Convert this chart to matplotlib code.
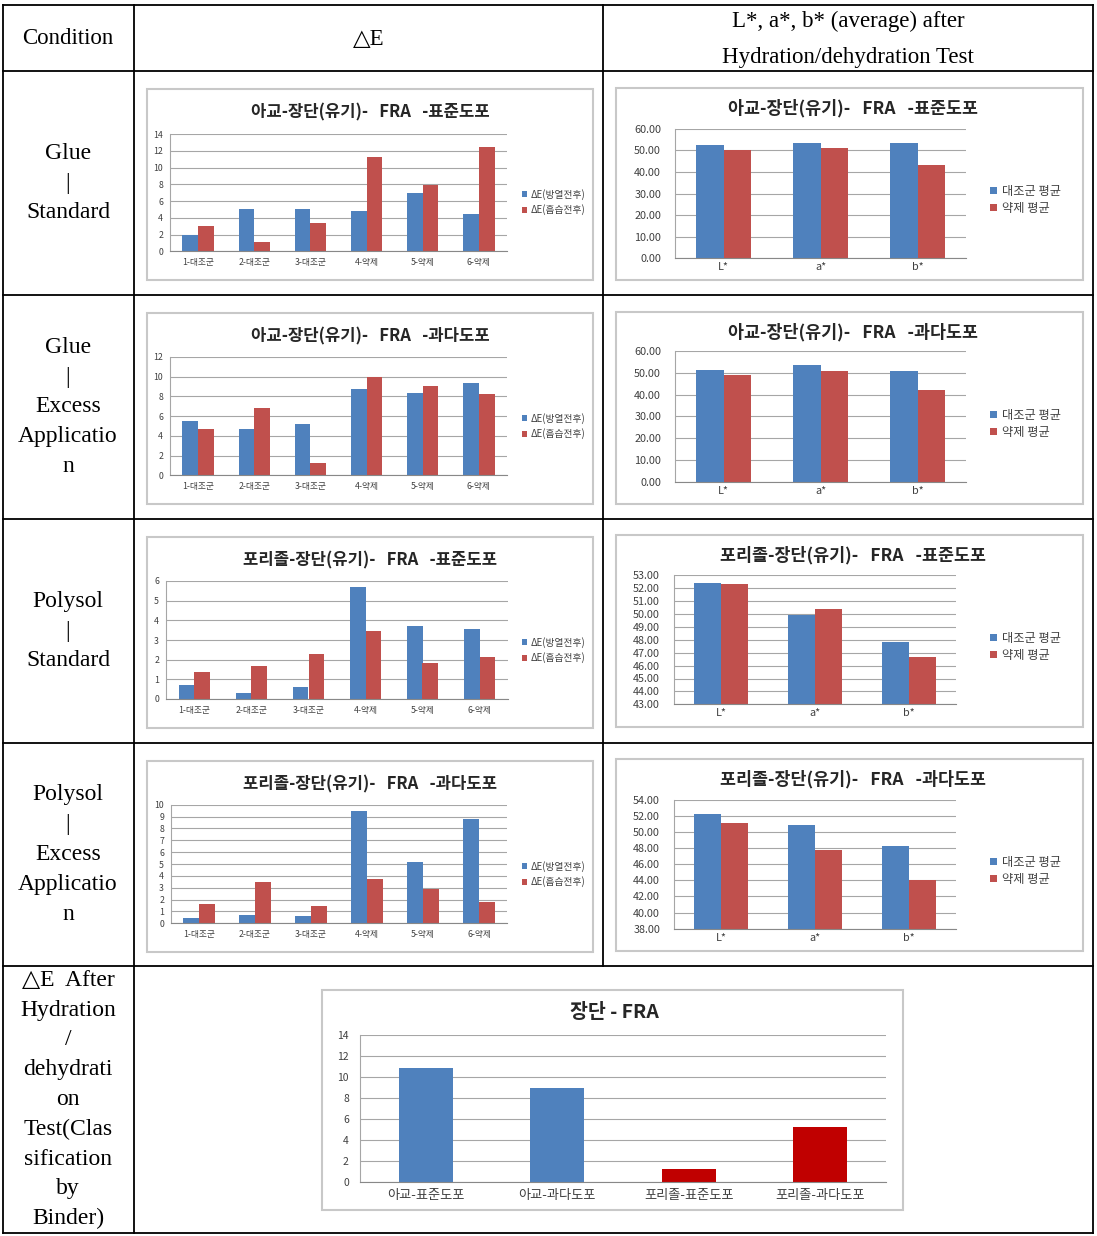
import matplotlib
matplotlib.use('Agg')
import matplotlib.pyplot as plt
from matplotlib.patches import Rectangle
import numpy as np

W, H = 1097, 1236
CJK = ['Noto Sans CJK KR', 'DejaVu Sans']
SERIF = ['Liberation Serif', 'DejaVu Sans']
plt.rcParams['font.family'] = CJK

# ---------------- data ----------------
de_categories = ['1-대조군', '2-대조군', '3-대조군', '4-약제', '5-약제', '6-약제']
de_series = ['ΔE(방열전후)', 'ΔE(흡습전후)']
glue_std_de_before = [2.0, 5.0, 5.1, 4.8, 6.9, 4.5]
glue_std_de_after = [3.0, 1.1, 3.4, 11.3, 7.9, 12.4]
glue_exc_de_before = [5.5, 4.7, 5.2, 8.8, 8.3, 9.4]
glue_exc_de_after = [4.7, 6.8, 1.2, 10.0, 9.1, 8.2]
poly_std_de_before = [0.73, 0.29, 0.63, 5.7, 3.7, 3.56]
poly_std_de_after = [1.36, 1.68, 2.29, 3.46, 1.81, 2.15]
poly_exc_de_before = [0.48, 0.70, 0.59, 9.5, 5.2, 8.8]
poly_exc_de_after = [1.63, 3.5, 1.49, 3.7, 2.89, 1.83]

lab_categories = ['L*', 'a*', 'b*']
lab_series = ['대조군 평균', '약제 평균']
glue_std_lab_control = [52.6, 53.5, 53.5]
glue_std_lab_agent = [50.1, 51.0, 43.3]
glue_exc_lab_control = [51.3, 53.5, 50.8]
glue_exc_lab_agent = [49.2, 50.8, 42.3]
poly_std_lab_control = [52.43, 49.95, 47.83]
poly_std_lab_agent = [52.30, 50.36, 46.67]
poly_exc_lab_control = [52.18, 50.86, 48.2]
poly_exc_lab_agent = [51.15, 47.8, 44.08]

binder_categories = ['아교-표준도포', '아교-과다도포', '포리졸-표준도포', '포리졸-과다도포']
binder_de = [10.9, 8.95, 1.26, 5.2]
binder_title = '장단 - FRA'

chart_titles = ['아교-장단(유기)-   FRA   -표준도포', '아교-장단(유기)-   FRA   -과다도포',
                '포리졸-장단(유기)-   FRA   -표준도포', '포리졸-장단(유기)-   FRA   -과다도포']

header_labels = ['Condition', '△E', 'L*, a*, b* (average) after', 'Hydration/dehydration Test']
condition_labels = [
    ['Glue', '|', 'Standard'],
    ['Glue', '|', 'Excess', 'Applicatio', 'n'],
    ['Polysol', '|', 'Standard'],
    ['Polysol', '|', 'Excess', 'Applicatio', 'n'],
    ['△E  After', 'Hydration', '/', 'dehydrati', 'on', 'Test(Clas', 'sification', 'by', 'Binder)'],
]

BLUE = '#4f81bd'
RED = '#c0504d'
DARKRED = '#c00000'
GRID = '#a6a6a6'
TXT = '#404040'

fig = plt.figure(figsize=(W / 100, H / 100), dpi=100)
bg = fig.add_axes([0, 0, 1, 1])
bg.set_xlim(0, W)
bg.set_ylim(H, 0)
bg.axis('off')


def add_ax(left, top, right, bottom):
    return fig.add_axes([left / W, 1 - bottom / H, (right - left) / W, (bottom - top) / H])


# ---------------- table ----------------
cols = [3, 134, 603, 1093]
rows = [5, 71, 295, 519, 743, 966, 1233]
lw = 1.3
for y in rows:
    bg.plot([cols[0], cols[-1]], [y, y], color='black', lw=lw, solid_capstyle='projecting')
for x in [cols[0], cols[1], cols[3]]:
    bg.plot([x, x], [rows[0], rows[-1]], color='black', lw=lw)
bg.plot([cols[2], cols[2]], [rows[0], rows[5]], color='black', lw=lw)

bg.text(68, 39, header_labels[0], ha='center', va='center', fontsize=16.5, family=SERIF)
bg.text(369, 39, header_labels[1], ha='center', va='center', fontsize=16.5, family=SERIF)
bg.text(848, 21, header_labels[2], ha='center', va='center', fontsize=16.5, family=SERIF)
bg.text(848, 57, header_labels[3], ha='center', va='center', fontsize=16.5, family=SERIF)

for i, lines in enumerate(condition_labels):
    yc = (rows[i + 1] + rows[i + 2]) / 2
    n = len(lines)
    for j, s in enumerate(lines):
        y = yc + (j - (n - 1) / 2) * 29.8
        bg.text(68, y, s, ha='center', va='center', fontsize=17, family=SERIF)

# ---------------- small charts ----------------
de_data = [(glue_std_de_before, glue_std_de_after), (glue_exc_de_before, glue_exc_de_after),
           (poly_std_de_before, poly_std_de_after), (poly_exc_de_before, poly_exc_de_after)]
de_limits = [(0, 14, 2), (0, 12, 2), (0, 6, 1), (0, 10, 1)]
de_rects = [(170, 134, 507, 251.3), (170, 357, 507, 475.3), (166, 581, 508, 699), (171, 804.7, 507, 923.3)]
de_frame_tops = [89, 313, 537, 761]

lab_data = [(glue_std_lab_control, glue_std_lab_agent), (glue_exc_lab_control, glue_exc_lab_agent),
            (poly_std_lab_control, poly_std_lab_agent), (poly_exc_lab_control, poly_exc_lab_agent)]
lab_limits = [(0, 60, 10), (0, 60, 10), (43, 53, 1), (38, 54, 2)]
lab_rects = [(675, 128.7, 966, 258.3), (675, 351.3, 966, 481.7), (674, 575.3, 956, 704.3), (674, 799.7, 956, 928.7)]
lab_frame_tops = [88, 312, 535, 759]


def style_axes(ax, ylim, fmt, tick_fs, xpad, ypad):
    lo, hi, step = ylim
    ax.set_ylim(lo, hi)
    ticks = np.arange(lo, hi + step / 2, step)
    ax.set_yticks(ticks)
    ax.set_yticklabels([fmt.format(t) for t in ticks])
    ax.yaxis.grid(True, color=GRID, lw=0.8)
    ax.set_axisbelow(True)
    for s in ['top', 'right']:
        ax.spines[s].set_visible(False)
    ax.spines['left'].set_color(GRID)
    ax.spines['bottom'].set_color('#888888')
    ax.tick_params(axis='y', length=0, labelsize=tick_fs, labelcolor=TXT, pad=ypad)
    ax.tick_params(axis='x', length=0, labelsize=tick_fs, labelcolor=TXT, pad=xpad)
    ax.set_facecolor('none')


for k in range(4):
    # frame for delta-E chart
    ft = de_frame_tops[k]
    bg.add_patch(Rectangle((147, ft), 446, 191, facecolor='white', edgecolor='#c8c8c8', lw=1.5))
    ax = add_ax(*de_rects[k])
    x = np.arange(len(de_categories))
    w = 0.28
    b1 = ax.bar(x - w / 2, de_data[k][0], w, color=BLUE, label=de_series[0])
    b2 = ax.bar(x + w / 2, de_data[k][1], w, color=RED, label=de_series[1])
    ax.set_xlim(-0.5, len(de_categories) - 0.5)
    ax.set_xticks(x)
    ax.set_xticklabels(de_categories)
    style_axes(ax, de_limits[k], '{:.0f}', 6.3, 5, 5)
    bg.text(370, ft + 23, chart_titles[k], ha='center', va='center', fontsize=12,
            fontweight='bold', color='#262626')
    ax.legend(handles=[b1, b2], loc='center left',
              bbox_to_anchor=(522 / W, 1 - (ft + 113) / H), bbox_transform=fig.transFigure,
              frameon=False, fontsize=7, handlelength=0.55, handleheight=0.55,
              handletextpad=0.3, labelspacing=0.45, borderpad=0, borderaxespad=0,
              labelcolor=TXT)

    # frame for L*a*b* chart
    ft = lab_frame_tops[k]
    bg.add_patch(Rectangle((616, ft), 467, 192, facecolor='white', edgecolor='#c8c8c8', lw=1.5))
    ax = add_ax(*lab_rects[k])
    x = np.arange(len(lab_categories))
    w = 0.283
    b1 = ax.bar(x - w / 2, lab_data[k][0], w, color=BLUE, label=lab_series[0])
    b2 = ax.bar(x + w / 2, lab_data[k][1], w, color=RED, label=lab_series[1])
    ax.set_xlim(-0.5, len(lab_categories) - 0.5)
    ax.set_xticks(x)
    ax.set_xticklabels(lab_categories)
    style_axes(ax, lab_limits[k], '{:.2f}', 7.8, 3, 10)
    bg.text(853, ft + 20, chart_titles[k], ha='center', va='center', fontsize=12.5,
            fontweight='bold', color='#262626')
    ax.legend(handles=[b1, b2], loc='center left',
              bbox_to_anchor=(990 / W, 1 - (ft + 112) / H), bbox_transform=fig.transFigure,
              frameon=False, fontsize=8.8, handlelength=0.55, handleheight=0.55,
              handletextpad=0.4, labelspacing=0.35, borderpad=0, borderaxespad=0,
              labelcolor=TXT)

# ---------------- bottom chart ----------------
bg.add_patch(Rectangle((322, 990), 581, 220, facecolor='white', edgecolor='#c8c8c8', lw=1.5))
ax = add_ax(360, 1035, 886, 1182)
x = np.arange(len(binder_categories))
ax.bar(x, binder_de, 0.41, color=[BLUE, BLUE, DARKRED, DARKRED])
ax.set_xlim(-0.5, len(binder_categories) - 0.5)
ax.set_xticks(x)
ax.set_xticklabels(binder_categories)
style_axes(ax, (0, 14, 2), '{:.0f}', 7.5, 5, 8)
ax.tick_params(axis='x', labelsize=9.5)
bg.text(614, 1012, binder_title, ha='center', va='center', fontsize=14,
        fontweight='bold', color='#262626')

fig.savefig('out.png', dpi=100)
